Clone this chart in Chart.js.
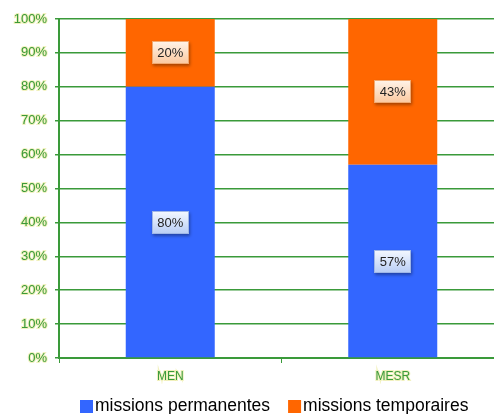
<!DOCTYPE html>
<html>
<head>
<meta charset="utf-8">
<script src="https://cdn.jsdelivr.net/npm/chart.js@4"></script>
<style>
    html, body { margin: 0; padding: 0; background: #fff; overflow: hidden; }
    #wrap { width: 494px; height: 414px; overflow: hidden; }
</style>
</head>
<body>
<div id="wrap"><canvas id="chart" width="504" height="414"></canvas></div>
<script>
const categories = ['MEN', 'MESR'];
const permanentes = [80, 57];
const temporaires = [20, 43];
const yTicks = [0, 10, 20, 30, 40, 50, 60, 70, 80, 90, 100];

const green = '#3a9a3a';
const fontFamily = '"Liberation Sans", Arial, sans-serif';

// boxed percent labels in the middle of each segment
const boxLabels = {
    id: 'boxLabels',
    afterDatasetsDraw(chart) {
        const ctx = chart.ctx;
        chart.data.datasets.forEach((ds, i) => {
            const meta = chart.getDatasetMeta(i);
            meta.data.forEach((bar, j) => {
                const mid = (bar.y + bar.base) / 2;
                const w = 37, h = 23;
                const x = Math.round(bar.x - w / 2), y = Math.round(mid - h / 2);
                ctx.save();
                ctx.shadowColor = 'rgba(0,0,0,0.35)';
                ctx.shadowBlur = 3;
                ctx.shadowOffsetX = 1;
                ctx.shadowOffsetY = 2;
                const g = ctx.createLinearGradient(0, y, 0, y + h);
                if (i === 0) {
                    g.addColorStop(0, '#f4f8ff');
                    g.addColorStop(1, '#b8cdf5');
                } else {
                    g.addColorStop(0, '#fff4ea');
                    g.addColorStop(1, '#fbc89e');
                }
                ctx.fillStyle = g;
                ctx.fillRect(x, y, w, h);
                ctx.restore();
                ctx.save();
                ctx.strokeStyle = i === 0 ? '#9fb6e6' : '#f0a870';
                ctx.lineWidth = 1;
                ctx.strokeRect(x + 0.5, y + 0.5, w - 1, h - 1);
                ctx.fillStyle = '#222';
                ctx.font = '13px ' + fontFamily;
                ctx.textAlign = 'center';
                ctx.textBaseline = 'middle';
                ctx.fillText(ds.data[j] + '%', bar.x, mid + 1);
                ctx.restore();
            });
        });
    }
};

// legend drawn under the axis, same layout as the original
const bottomLegend = {
    id: 'bottomLegend',
    afterDraw(chart) {
        const ctx = chart.ctx;
        ctx.save();
        ctx.font = '17.5px ' + fontFamily;
        ctx.textBaseline = 'middle';
        let x = 80;
        const cy = 406;
        chart.data.datasets.forEach(ds => {
            ctx.fillStyle = ds.backgroundColor;
            ctx.fillRect(x, cy - 6, 13, 13);
            x += 15;
            ctx.fillStyle = '#000';
            ctx.fillText(ds.label, x, cy);
            x += ctx.measureText(ds.label).width + 18;
        });
        ctx.restore();
    }
};

new Chart(document.getElementById('chart').getContext('2d'), {
    type: 'bar',
    data: {
        labels: categories,
        datasets: [{
            label: 'missions permanentes',
            data: permanentes,
            backgroundColor: '#3366ff',
            barPercentage: 0.4,
            categoryPercentage: 1
        }, {
            label: 'missions temporaires',
            data: temporaires,
            backgroundColor: '#ff6600',
            barPercentage: 0.4,
            categoryPercentage: 1
        }]
    },
    options: {
        responsive: false,
        animation: false,
        layout: { padding: { top: 19, left: 0, right: 0, bottom: 30 } },
        plugins: {
            tooltip: { enabled: false },
            legend: { display: false }
        },
        scales: {
            x: {
                stacked: true,
                offset: true,
                grid: {
                    offset: true,
                    drawOnChartArea: false,
                    color: green,
                    tickLength: 5
                },
                border: { color: green, width: 2 },
                ticks: {
                    color: green,
                    font: { family: fontFamily, size: 12 },
                    padding: 6,
                    textStrokeColor: 'rgba(225,225,110,0.45)',
                    textStrokeWidth: 2
                },
                afterFit(scale) { scale.height = 26; }
            },
            y: {
                stacked: true,
                min: 0,
                max: 100,
                afterBuildTicks(scale) {
                    scale.ticks = yTicks.map(v => ({ value: v }));
                },
                grid: {
                    color: green,
                    lineWidth: 1.5,
                    tickLength: 4
                },
                border: { color: green, width: 2 },
                ticks: {
                    color: green,
                    font: { family: fontFamily, size: 13 },
                    padding: 8,
                    textStrokeColor: 'rgba(225,225,110,0.45)',
                    textStrokeWidth: 2,
                    callback: v => v + '%'
                },
                afterFit(scale) { scale.width = 59; }
            }
        }
    },
    plugins: [boxLabels, bottomLegend]
});
</script>
</body>
</html>
